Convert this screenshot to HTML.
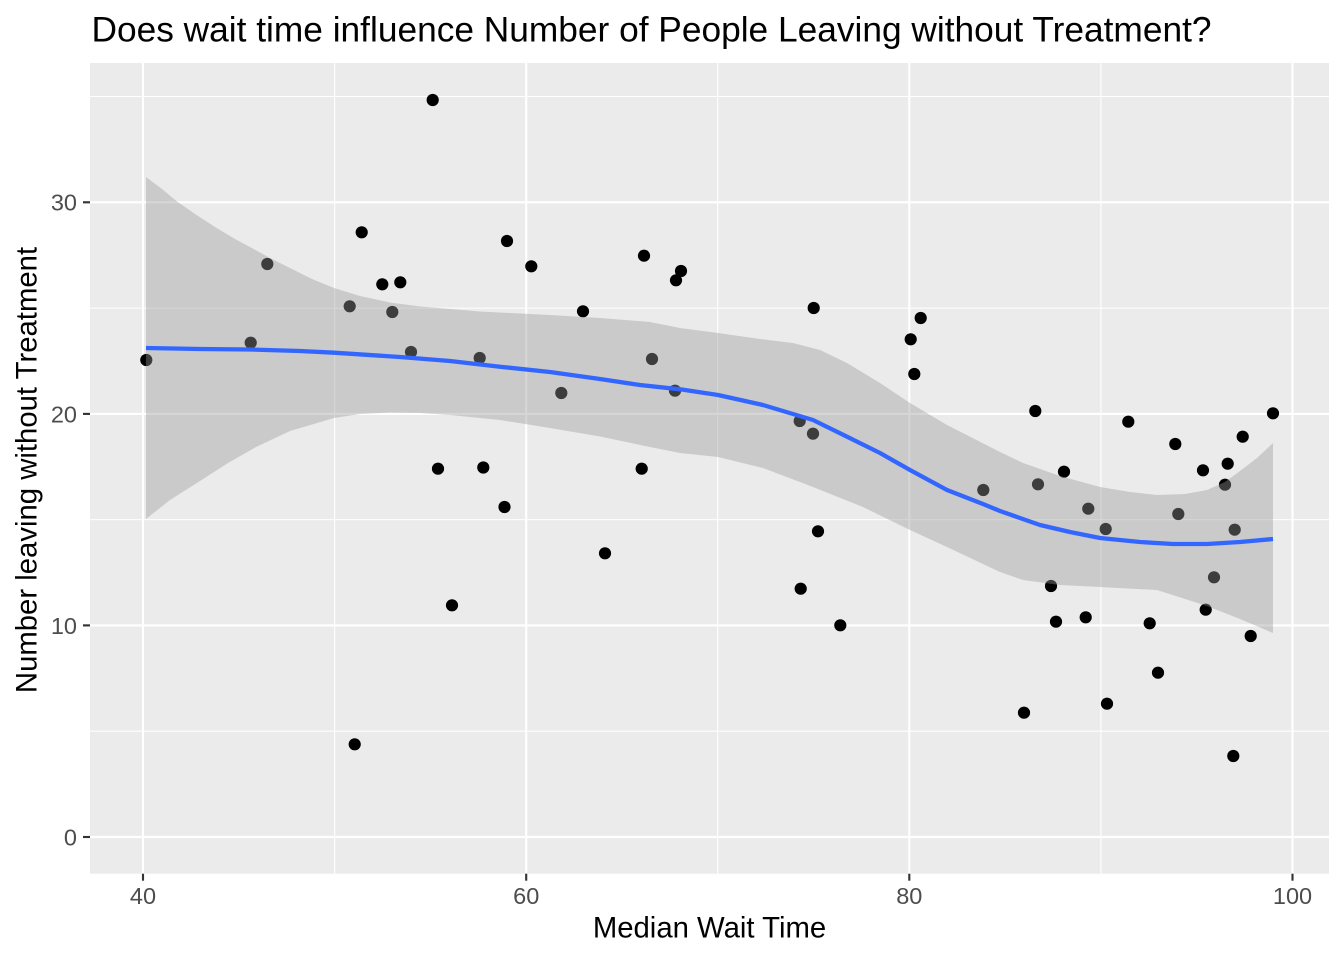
<!DOCTYPE html>
<html>
<head>
<meta charset="utf-8">
<style>
html,body{margin:0;padding:0;background:#fff;}
svg{display:block;}
text{font-family:"Liberation Sans", Arial, sans-serif;}
</style>
</head>
<body>
<svg width="1344" height="960" viewBox="0 0 1344 960" xmlns="http://www.w3.org/2000/svg">
<rect x="0" y="0" width="1344" height="960" fill="#ffffff"/>
<rect x="90" y="63" width="1239" height="810.7" fill="#EBEBEB"/>
<g stroke="#ffffff" stroke-width="1.07" fill="none">
<line x1="90" x2="1329" y1="731.2" y2="731.2"/>
<line x1="90" x2="1329" y1="519.6" y2="519.6"/>
<line x1="90" x2="1329" y1="308.1" y2="308.1"/>
<line x1="90" x2="1329" y1="96.5" y2="96.5"/>
<line y1="63" y2="873.7" x1="334.6" x2="334.6"/>
<line y1="63" y2="873.7" x1="717.7" x2="717.7"/>
<line y1="63" y2="873.7" x1="1100.9" x2="1100.9"/>
</g>
<g stroke="#ffffff" stroke-width="2.13" fill="none">
<line x1="90" x2="1329" y1="837" y2="837"/>
<line x1="90" x2="1329" y1="625.4" y2="625.4"/>
<line x1="90" x2="1329" y1="413.9" y2="413.9"/>
<line x1="90" x2="1329" y1="202.3" y2="202.3"/>
<line y1="63" y2="873.7" x1="143" x2="143"/>
<line y1="63" y2="873.7" x1="526.2" x2="526.2"/>
<line y1="63" y2="873.7" x1="909.3" x2="909.3"/>
<line y1="63" y2="873.7" x1="1292.5" x2="1292.5"/>
</g>
<g fill="#000000">
<circle cx="146.3" cy="360" r="6.1"/>
<circle cx="250.7" cy="342.7" r="6.1"/>
<circle cx="267.3" cy="264" r="6.1"/>
<circle cx="349.7" cy="306.3" r="6.1"/>
<circle cx="361.7" cy="232.3" r="6.1"/>
<circle cx="382.3" cy="284.3" r="6.1"/>
<circle cx="400.3" cy="282.3" r="6.1"/>
<circle cx="392.3" cy="312" r="6.1"/>
<circle cx="411" cy="352" r="6.1"/>
<circle cx="432.7" cy="100" r="6.1"/>
<circle cx="479.7" cy="358" r="6.1"/>
<circle cx="507" cy="241" r="6.1"/>
<circle cx="438" cy="468.7" r="6.1"/>
<circle cx="483.3" cy="467.5" r="6.1"/>
<circle cx="504.5" cy="507" r="6.1"/>
<circle cx="452" cy="605.3" r="6.1"/>
<circle cx="354.7" cy="744.3" r="6.1"/>
<circle cx="531.3" cy="266.3" r="6.1"/>
<circle cx="644" cy="255.7" r="6.1"/>
<circle cx="681" cy="271" r="6.1"/>
<circle cx="676" cy="280.3" r="6.1"/>
<circle cx="583" cy="311.3" r="6.1"/>
<circle cx="813.7" cy="308" r="6.1"/>
<circle cx="920.7" cy="318" r="6.1"/>
<circle cx="910.7" cy="339.3" r="6.1"/>
<circle cx="914.3" cy="374" r="6.1"/>
<circle cx="652" cy="359" r="6.1"/>
<circle cx="561.3" cy="393" r="6.1"/>
<circle cx="675" cy="390.7" r="6.1"/>
<circle cx="799.7" cy="421" r="6.1"/>
<circle cx="813" cy="433.7" r="6.1"/>
<circle cx="641.7" cy="468.7" r="6.1"/>
<circle cx="818" cy="531.3" r="6.1"/>
<circle cx="605" cy="553.3" r="6.1"/>
<circle cx="800.7" cy="588.7" r="6.1"/>
<circle cx="840.3" cy="625.3" r="6.1"/>
<circle cx="1035.3" cy="411" r="6.1"/>
<circle cx="1128.3" cy="421.7" r="6.1"/>
<circle cx="1273" cy="413.3" r="6.1"/>
<circle cx="1175.3" cy="444" r="6.1"/>
<circle cx="1242.7" cy="436.7" r="6.1"/>
<circle cx="1227.7" cy="463.7" r="6.1"/>
<circle cx="1203" cy="470.3" r="6.1"/>
<circle cx="1064" cy="471.7" r="6.1"/>
<circle cx="983.3" cy="490" r="6.1"/>
<circle cx="1038" cy="484.3" r="6.1"/>
<circle cx="1225" cy="484.7" r="6.1"/>
<circle cx="1088.3" cy="508.7" r="6.1"/>
<circle cx="1178.3" cy="514" r="6.1"/>
<circle cx="1105.7" cy="529" r="6.1"/>
<circle cx="1234.7" cy="529.7" r="6.1"/>
<circle cx="1214" cy="577.3" r="6.1"/>
<circle cx="1051" cy="586" r="6.1"/>
<circle cx="1205.7" cy="609.7" r="6.1"/>
<circle cx="1056" cy="621.7" r="6.1"/>
<circle cx="1085.7" cy="617.3" r="6.1"/>
<circle cx="1149.7" cy="623.3" r="6.1"/>
<circle cx="1250.7" cy="636" r="6.1"/>
<circle cx="1158" cy="672.7" r="6.1"/>
<circle cx="1024" cy="712.7" r="6.1"/>
<circle cx="1107" cy="703.7" r="6.1"/>
<circle cx="1233.3" cy="756" r="6.1"/>
</g>
<polygon fill="#999999" fill-opacity="0.4" stroke="none" points="146,177 162,189 177,201.5 195,214 215,227 235,239 250,247 270,258 290,268 312,279 334,288 360,296 390,302.5 420,306.5 450,309 480,311.5 510,313 550,315 600,318 650,322 680,328 718,333 760,339 793,343 820,350 847,363 880,383 910,403 947,425 1000,452 1023,463 1060,476 1100,487 1130,492 1157,495 1185,494 1207,490 1225,482 1240,471 1257,458 1273,443 1273,633 1240,619 1207,606 1157,590 1100,587 1060,585 1023,580 1000,572 947,547 910,530 863,507 813,487 763,468 718,457 680,453 650,447 600,436.5 550,428 500,420 450,415 420,413 390,412.5 360,414 334,418 290,431 256,447 228,463 200,481 170,500 146,519"/>
<polyline fill="none" stroke="#3366FF" stroke-width="4.3" stroke-linejoin="round" points="146,348 200,349 250,349.5 300,351 334,352.7 400,357 450,361 500,366.7 550,372 600,379 640,385 680,389.3 718,395 763,405 813,420 847,436.7 880,453 910,470 947,490 983,504 1000,511 1040,525 1070,532 1100,538 1140,542 1173,544 1207,544 1240,542 1273,539"/>
<g stroke="#333333" stroke-width="2.13">
<line x1="83" x2="90" y1="837" y2="837"/>
<line x1="83" x2="90" y1="625.4" y2="625.4"/>
<line x1="83" x2="90" y1="413.9" y2="413.9"/>
<line x1="83" x2="90" y1="202.3" y2="202.3"/>
<line y1="873.7" y2="880.7" x1="143" x2="143"/>
<line y1="873.7" y2="880.7" x1="526.2" x2="526.2"/>
<line y1="873.7" y2="880.7" x1="909.3" x2="909.3"/>
<line y1="873.7" y2="880.7" x1="1292.5" x2="1292.5"/>
</g>
<g fill="#4D4D4D" font-size="23.5">
<text x="77" y="845.4" text-anchor="end">0</text>
<text x="77" y="633.8" text-anchor="end">10</text>
<text x="77" y="422.3" text-anchor="end">20</text>
<text x="77" y="210.7" text-anchor="end">30</text>
<text x="143" y="904" text-anchor="middle">40</text>
<text x="526.2" y="904" text-anchor="middle">60</text>
<text x="909.3" y="904" text-anchor="middle">80</text>
<text x="1292.5" y="904" text-anchor="middle">100</text>
</g>
<text x="709.5" y="937.5" text-anchor="middle" font-size="29.3" fill="#000000">Median Wait Time</text>
<text transform="translate(36.5,470) rotate(-90)" x="0" y="0" text-anchor="middle" font-size="29.3" fill="#000000">Number leaving without Treatment</text>
<text x="91.5" y="41.5" font-size="35.2" fill="#000000" textLength="1120" lengthAdjust="spacingAndGlyphs">Does wait time influence Number of People Leaving without Treatment?</text>
</svg>
</body>
</html>
